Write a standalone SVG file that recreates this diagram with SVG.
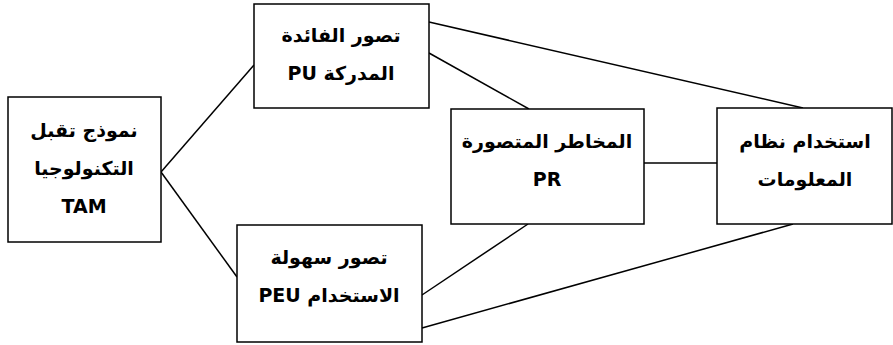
<svg xmlns="http://www.w3.org/2000/svg" width="893" height="345" viewBox="0 0 893 345">
<style>
.box{fill:#fff;stroke:#000;stroke-width:1.5}
.ln{stroke:#000;stroke-width:1.5;fill:none}
text{font-family:"DejaVu Sans","Noto Sans",sans-serif;font-size:19px;font-weight:bold;text-anchor:middle;fill:#000;direction:rtl;unicode-bidi:embed}
</style>
<rect width="893" height="345" fill="#fff"/>
<g id="connectors">
<line class="ln" x1="161" y1="172" x2="254" y2="65"/>
<line class="ln" x1="161" y1="172" x2="237" y2="277"/>
<line class="ln" x1="429" y1="22" x2="803" y2="108"/>
<line class="ln" x1="429" y1="53" x2="529" y2="109"/>
<line class="ln" x1="644" y1="163" x2="717" y2="163"/>
<line class="ln" x1="528" y1="224" x2="422" y2="295"/>
<line class="ln" x1="793" y1="224" x2="422" y2="328"/>
</g>
<g id="tam">
<rect class="box" x="8" y="97" width="153" height="145"/>
<text x="84" y="137">نموذج تقبل</text>
<text x="84" y="175">التكنولوجيا</text>
<text x="84" y="213">TAM</text>
</g>
<g id="pu">
<rect class="box" x="254" y="4" width="175" height="104"/>
<text x="341" y="42">تصور الفائدة</text>
<text x="341" y="80">المدركة PU</text>
</g>
<g id="peu">
<rect class="box" x="237" y="225" width="185" height="117"/>
<text x="329" y="264">تصور سهولة</text>
<text x="329" y="302">الاستخدام PEU</text>
</g>
<g id="pr">
<rect class="box" x="451" y="109" width="193" height="115"/>
<text x="547" y="148">المخاطر المتصورة</text>
<text x="547" y="186">PR</text>
</g>
<g id="use">
<rect class="box" x="717" y="108" width="175" height="116"/>
<text x="805" y="148">استخدام نظام</text>
<text x="805" y="186">المعلومات</text>
</g>
</svg>
